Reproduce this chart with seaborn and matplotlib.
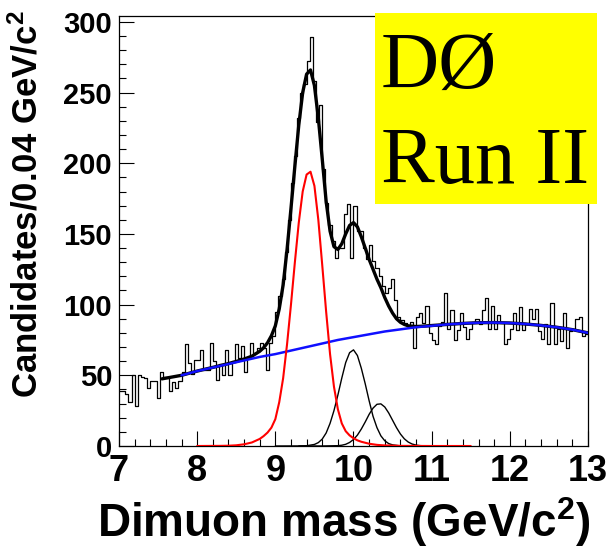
import numpy as np
import pandas as pd
import matplotlib
matplotlib.use("Agg")
import matplotlib.pyplot as plt
from matplotlib.patches import Rectangle
from matplotlib.ticker import MultipleLocator
import seaborn as sns

# ---------------- data ----------------
BIN_LO, BIN_HI, BIN_W = 7.0, 13.0, 0.04

counts_7 = [39, 39, 37, 31, 50, 28, 50, 49, 48, 41, 46, 46, 34, 52, 49, 49, 39, 45, 41, 46, 52, 72, 59, 51, 61]
counts_8 = [61, 68, 54, 54, 73, 60, 47, 58, 50, 68, 50, 60, 72, 62, 71, 52, 63, 73, 66, 69, 73, 69, 54, 73, 78]
counts_9 = [95, 106, 118, 137, 160, 186, 205, 232, 250, 256, 272, 289, 258, 229, 241, 196, 172, 156, 145, 133, 140, 140, 164, 171, 133]
counts_10 = [170, 152, 152, 140, 132, 142, 131, 126, 120, 113, 108, 112, 118, 103, 91, 89, 87, 85, 88, 69, 91, 94, 87, 99, 80]
counts_11 = [75, 72, 85, 88, 108, 83, 96, 75, 82, 94, 84, 76, 83, 88, 90, 86, 96, 105, 83, 99, 83, 93, 87, 72, 76]
counts_12 = [83, 94, 82, 98, 82, 86, 97, 90, 97, 81, 76, 86, 72, 101, 72, 83, 74, 94, 69, 81, 83, 90, 91, 78, 79]

# total fit (black)
x_tot = [7.55, 7.6, 7.8, 8.0, 8.2, 8.4, 8.5, 8.6, 8.7, 8.8, 8.85, 8.9, 8.95, 9.0, 9.05, 9.1, 9.15, 9.2, 9.25, 9.3,
         9.35, 9.4, 9.45, 9.5, 9.55, 9.6, 9.65, 9.7, 9.75, 9.8, 9.85, 9.9, 9.95, 10.0, 10.05, 10.1, 10.15, 10.2, 10.25, 10.3,
         10.35, 10.4, 10.45, 10.5, 10.55, 10.6, 10.65, 10.7, 10.8, 10.9, 11.0, 11.2, 11.4, 11.6, 11.8, 12.0, 12.2, 12.4, 12.6, 12.8, 13.0]
y_tot = [47.5, 48, 50, 53, 55.6, 58.3, 59.8, 61.5, 63.5, 67, 69.5, 73, 78, 85, 97, 114, 139, 168, 198, 227,
         250, 263, 266, 255, 232, 203, 173, 152, 141, 139, 143, 150, 156, 158, 155, 148, 140, 132, 125, 118,
         112, 105, 99, 94, 90, 87.5, 86, 85, 84.5, 84.8, 85.2, 86, 86.7, 87.2, 87.3, 87, 86.3, 85.3, 84, 82.3, 80]

# background (blue)
x_bkg = [7.8, 8.0, 8.2, 8.4, 8.6, 8.8, 9.0, 9.2, 9.4, 9.6, 9.8, 10.0, 10.2, 10.4, 10.6, 10.8, 11.0, 11.2, 11.4,
         11.6, 11.8, 12.0, 12.2, 12.4, 12.6, 12.8, 13.0]
y_bkg = [50, 53, 55.5, 58, 60.5, 63, 65, 67.5, 70, 72.5, 75, 77, 79, 81, 82.5, 84, 85, 86, 86.7,
         87.2, 87.3, 87, 86.3, 85.3, 84, 82.3, 80]

# Upsilon(1S) (red)
x_1s = [8.0, 8.3, 8.4, 8.5, 8.6, 8.7, 8.8, 8.85, 8.9, 8.95, 9.0, 9.05, 9.1, 9.15, 9.2, 9.25, 9.3, 9.35, 9.4, 9.45,
        9.5, 9.55, 9.6, 9.65, 9.7, 9.75, 9.8, 9.85, 9.9, 9.95, 10.0, 10.05, 10.1, 10.2, 10.3, 10.4, 10.6, 11.0, 11.5]
y_1s = [0, 0.1, 0.2, 0.5, 1.2, 2.5, 5, 7, 9.5, 13, 19, 31, 48, 72, 100, 130, 158, 180, 192, 194,
        184, 160, 128, 95, 65, 42, 26, 16, 10.5, 7.5, 5.5, 4, 3, 1.6, 0.8, 0.4, 0.1, 0, 0]

# Upsilon(2S) (thin black)
x_2s = [9.0, 9.3, 9.4, 9.5, 9.55, 9.6, 9.65, 9.7, 9.75, 9.8, 9.85, 9.9, 9.95, 10.0, 10.05, 10.1, 10.15, 10.2,
        10.25, 10.3, 10.35, 10.4, 10.45, 10.5, 10.6, 10.8, 11.0]
y_2s = [0, 0.05, 0.2, 1.1, 2.4, 4.9, 9.2, 16, 25, 36, 48, 59, 66, 68, 64, 55, 44, 32,
        21, 13, 7.2, 3.7, 1.7, 0.8, 0.1, 0, 0]

# Upsilon(3S) (thin black)
x_3s = [9.3, 9.6, 9.8, 9.85, 9.9, 9.95, 10.0, 10.05, 10.1, 10.15, 10.2, 10.25, 10.3, 10.35, 10.4, 10.45, 10.5,
        10.55, 10.6, 10.65, 10.7, 10.75, 10.8, 10.85, 10.9, 11.0, 11.3]
y_3s = [0, 0.02, 0.23, 0.55, 1.2, 2.5, 4.6, 7.7, 12, 17, 22.4, 26.8, 29.5, 29.8, 27.6, 23.4, 18.2,
        13, 8.5, 5.1, 2.8, 1.4, 0.66, 0.28, 0.1, 0, 0]

x_ticks = [7, 8, 9, 10, 11, 12, 13]
y_ticks = [0, 50, 100, 150, 200, 250, 300]

# ---------------- style ----------------
sns.set_style("ticks")
plt.rcParams['font.family'] = ['Liberation Sans', 'DejaVu Sans']
plt.rcParams['mathtext.fontset'] = 'custom'
plt.rcParams['mathtext.rm'] = 'Liberation Sans:bold'
plt.rcParams['mathtext.bf'] = 'Liberation Sans:bold'
plt.rcParams['mathtext.default'] = 'rm'
plt.rcParams['text.color'] = 'black'
plt.rcParams['xtick.color'] = 'black'
plt.rcParams['ytick.color'] = 'black'
plt.rcParams['xtick.labelcolor'] = 'black'
plt.rcParams['ytick.labelcolor'] = 'black'

W, H = 613, 549
fig = plt.figure(figsize=(W / 100, H / 100), dpi=100)
fig.patch.set_facecolor('white')
ax = fig.add_axes([119 / W, 1 - 446 / H, (588 - 119) / W, (446 - 15.5) / H])
ax.set_facecolor('white')

counts = counts_7 + counts_8 + counts_9 + counts_10 + counts_11 + counts_12
edges = [round(BIN_LO + i * BIN_W, 4) for i in range(len(counts) + 1)]
centers = [(edges[i] + edges[i + 1]) / 2 for i in range(len(counts))]
hist_df = pd.DataFrame({"mass": centers, "n": counts})

sns.histplot(data=hist_df, x="mass", weights="n", bins=edges, element="step", fill=False,
             color="black", linewidth=0.9, ax=ax, zorder=1)

sns.lineplot(x=x_tot, y=y_tot, color="black", linewidth=2.4, ax=ax, zorder=2, errorbar=None)
sns.lineplot(x=x_2s, y=y_2s, color="black", linewidth=1.0, ax=ax, zorder=2, errorbar=None)
sns.lineplot(x=x_3s, y=y_3s, color="black", linewidth=1.0, ax=ax, zorder=2, errorbar=None)
sns.lineplot(x=x_bkg, y=y_bkg, color="#1010ff", linewidth=1.8, ax=ax, zorder=3, errorbar=None)
sns.lineplot(x=x_1s, y=y_1s, color="#ff0000", linewidth=1.5, ax=ax, zorder=4, errorbar=None)

ax.set_xlim(7, 13)
ax.set_ylim(0, 304.5)
ax.set_xlabel("")
ax.set_ylabel("")
ax.set_xticks(x_ticks)
ax.set_xticklabels([str(t) for t in x_ticks])
ax.set_yticks(y_ticks)
ax.set_yticklabels([str(t) for t in y_ticks])
ax.xaxis.set_minor_locator(MultipleLocator(0.2))
ax.yaxis.set_minor_locator(MultipleLocator(10))
ax.tick_params(which='both', direction='in', top=False, right=False, width=0.8, color='black')
ax.tick_params(which='major', length=10.8)
ax.tick_params(which='minor', length=5.0)
ax.tick_params(axis='x', which='major', labelsize=26, pad=6, labelcolor='black')
ax.tick_params(axis='y', which='major', labelsize=21, pad=5, labelcolor='black')
for lab in ax.get_xticklabels() + ax.get_yticklabels():
    lab.set_fontweight('bold')
for sp in ax.spines.values():
    sp.set_visible(True)
    sp.set_linewidth(0.9)
    sp.set_color('black')

# axis titles
fig.text(590 / W, 1 - 537 / H, r"Dimuon mass (GeV/c$^{2}$)", ha='right', va='baseline',
         fontsize=33, fontweight='bold', color='black')
fig.text(27 / W, 1 - 10 / H, r"Candidates/0.04 GeV/c$^{2}$", ha='center', va='top', rotation=90,
         fontsize=25, fontweight='bold', color='black')

# experiment label box
box = Rectangle((375 / W, 1 - 204 / H), (597 - 375) / W, (204 - 13) / H, transform=fig.transFigure,
                facecolor='#ffff00', edgecolor='none', zorder=5)
fig.patches.append(box)
fig.text(381 / W, 1 - 88 / H, "DØ", ha='left', va='baseline', fontsize=58, color='black',
         family=['Liberation Serif', 'DejaVu Serif'], fontweight='normal', zorder=6)
fig.text(381 / W, 1 - 183 / H, "Run II", ha='left', va='baseline', fontsize=58, color='black',
         family=['Liberation Serif', 'DejaVu Serif'], fontweight='normal', zorder=6)

fig.savefig("out.png", dpi=100, facecolor='white')
